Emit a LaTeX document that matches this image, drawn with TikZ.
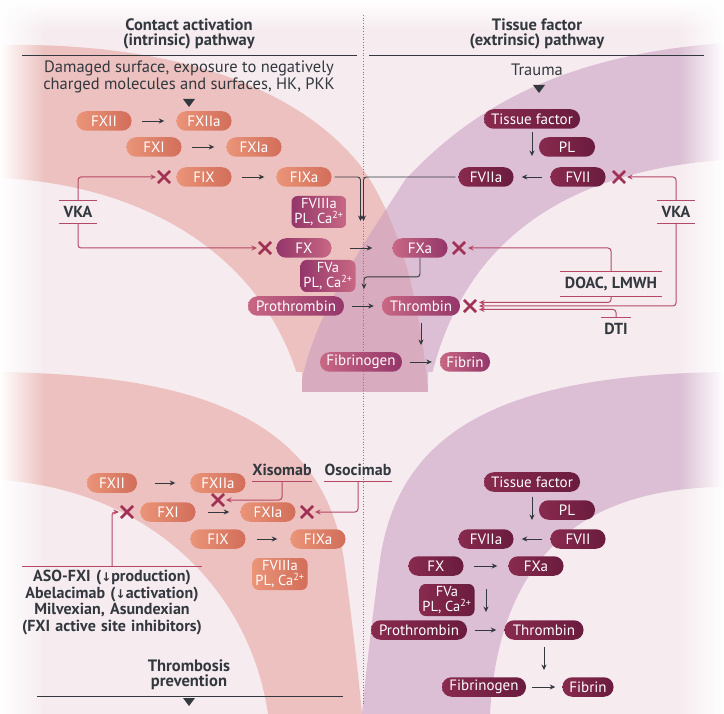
\documentclass[tikz,border=0pt]{standalone}
\usepackage{fontspec}
\setmainfont{PT Sans}
\newfontfamily\arrowfont{DejaVu Sans}
\usetikzlibrary{arrows.meta,shapes.misc,fadings}

\definecolor{ink}{RGB}{50,56,62}
\definecolor{inhred}{RGB}{180,72,102}
\definecolor{xred}{RGB}{160,48,84}
\definecolor{salmonL}{RGB}{234,148,120}
\definecolor{salmonR}{RGB}{210,110,90}
\definecolor{mauveL}{RGB}{200,104,132}
\definecolor{mauveR}{RGB}{148,54,106}
\definecolor{wineL}{RGB}{136,42,78}
\definecolor{wineR}{RGB}{106,28,62}
\definecolor{bgbase}{RGB}{246,236,240}
\definecolor{pinkband}{RGB}{232,170,165}
\definecolor{purpband}{RGB}{200,155,190}

\newcommand{\pillfont}{\fontsize{15}{16}\selectfont}
\newcommand{\cofont}{\fontsize{14.5}{15}\selectfont}
\newcommand{\drugfont}{\fontsize{16}{16.5}\selectfont\bfseries}
\newcommand{\headfont}{\fontsize{16.5}{15.5}\selectfont\bfseries}
\newcommand{\cuefont}{\fontsize{16.5}{14}\selectfont}
\newcommand{\caion}{Ca\textsuperscript{2+}}
\newcommand{\dnarrow}{{\arrowfont\fontsize{12}{12}\selectfont ↓}}

\tikzset{
  pill/.style={rounded corners=9.5pt, minimum width=55pt, minimum height=19.5pt,
    inner xsep=5pt, inner ysep=0pt, text=white, font=\pillfont},
  salmonpill/.style={pill, left color=salmonL, right color=salmonR},
  mauvepill/.style={pill, left color=mauveL, right color=mauveR},
  winepill/.style={pill, left color=wineL, right color=wineR},
  cofactor/.style={rounded corners=6pt, minimum width=55pt, minimum height=32pt,
    inner xsep=1pt, inner ysep=1pt, text=white, align=center, font=\cofont},
  xmark/.style={draw=xred, cross out, line width=2.6pt, minimum size=9.5pt, inner sep=0pt},
  flow/.style={draw=ink, line width=0.9pt, -{Stealth[length=5.5pt,width=5pt]},
    shorten <=8pt, shorten >=8pt},
  inhib/.style={draw=inhred, line width=1pt, -{Stealth[length=5.5pt,width=5pt]},
    rounded corners=3pt},
  drug/.style={font=\drugfont, text=ink, inner sep=0pt},
  bar/.style={draw=inhred, line width=1pt},
  rule/.style={draw=ink, line width=0.9pt},
  heading/.style={font=\headfont, text=ink, align=center},
  cue/.style={font=\cuefont, text=ink, align=center},
}

\begin{document}
\begin{tikzpicture}[x=1pt,y=-1pt]
  \useasboundingbox (0,0) rectangle (724,714);
  % background bands
  \fill[bgbase] (0,0) rectangle (724,714);
  \begin{scope}
    \clip (0,372) rectangle (724,714);
    \fill[pinkband, fill opacity=0.65] (0,372) .. controls (200,375) and (324,420) .. (344,560)
      .. controls (352,620) and (359,680) .. (362,714) -- (268,714)
      .. controls (250,590) and (150,490) .. (0,480) -- cycle;
    \fill[purpband, fill opacity=0.55] (724,372) .. controls (520,375) and (400,420) .. (380,560)
      .. controls (372,620) and (365,680) .. (362,714) -- (490,714)
      .. controls (500,540) and (600,488) .. (724,487) -- cycle;
  \end{scope}
  \begin{scope}
    \clip (0,0) rectangle (724,372) (302,368) rectangle (428,392);
    \fill[pinkband, fill opacity=0.65] (0,45) .. controls (180,42) and (300,90) .. (360,165)
      .. controls (400,220) and (420,300) .. (428,392) -- (302,392)
      .. controls (270,260) and (150,185) .. (0,178) -- cycle;
    \fill[purpband, fill opacity=0.55] (724,43) .. controls (560,55) and (470,110) .. (405,180)
      .. controls (360,250) and (310,320) .. (300,392) -- (428,392)
      .. controls (460,230) and (580,170) .. (724,160) -- cycle;
  \end{scope}
  \fill[white, path fading=east] (0,0) rectangle (45,714);
  \fill[white, path fading=west] (679,0) rectangle (724,714);
  \fill[white, path fading=south] (0,0) rectangle (724,30);
  \draw[gray, dotted, line width=0.7pt] (363,15) -- (363,706);

  % headings
  \node[heading] (intrinsic) at (189,34) {Contact activation\\(intrinsic) pathway};
  \node[heading] (extrinsic) at (537,34) {Tissue factor\\(extrinsic) pathway};
  \draw[rule] (22,55) -- (357,55);
  \draw[rule] (369,55) -- (704,55);
  \node[cue] (damage) at (189,77) {Damaged surface, exposure to negatively\\charged molecules and surfaces, HK, PKK};
  \node[cue] (trauma) at (537,70) {Trauma};
  \fill[ink] (183,99) -- (195,99) -- (189,107) -- cycle;
  \fill[ink] (533,85) -- (545,85) -- (539,93) -- cycle;

  % upper cascade
  \node[salmonpill] (fxii) at (104,121) {FXII};
  \node[salmonpill] (fxiia) at (204,121) {FXIIa};
  \node[salmonpill] (fxi) at (154,147) {FXI};
  \node[salmonpill] (fxia) at (254,147) {FXIa};
  \node[salmonpill] (fix) at (204,177) {FIX};
  \node[salmonpill] (fixa) at (304,177) {FIXa};
  \node[cofactor, left color=mauveR, right color=mauveL] (fviiia) at (319,212) {FVIIIa\\PL, \caion};
  \node[mauvepill, left color=mauveR, right color=mauveL] (fx) at (304,248) {FX};
  \node[mauvepill] (fxa) at (420,248) {FXa};
  \node[cofactor, left color=mauveR, right color=mauveL] (fva) at (328,276) {FVa\\PL, \caion};
  \node[mauvepill, minimum width=96pt] (proth) at (296,306) {Prothrombin};
  \node[mauvepill, minimum width=78pt] (thr) at (421,306) {Thrombin};
  \node[mauvepill, minimum width=82pt] (fbg) at (361,362) {Fibrinogen};
  \node[mauvepill, minimum width=50pt] (fbn) at (465,362) {Fibrin};
  \node[winepill, minimum width=96pt] (tf) at (532,119) {Tissue factor};
  \node[winepill, minimum width=56pt] (pl) at (567,147) {PL};
  \node[winepill] (fviia) at (486,177) {FVIIa};
  \node[winepill] (fvii) at (578,177) {FVII};

  \draw[flow, shorten <=10pt, shorten >=12pt] (fxii) -- (fxiia);
  \draw[flow, shorten <=10pt, shorten >=12pt] (fxi) -- (fxia);
  \draw[flow, shorten <=10pt, shorten >=12pt] (fix) -- (fixa);
  \draw[flow, shorten <=18pt, shorten >=20pt] (fx) -- (fxa);
  \draw[flow] (proth) -- (thr);
  \draw[flow] (fbg) -- (fbn);
  \draw[flow] (fvii) -- (fviia);
  \draw[flow, shorten <=3pt, shorten >=11pt] (tf.south) -- (tf |- fviia.north);
  \draw[flow, shorten <=7pt, shorten >=7pt] (thr.south) -- (thr |- fbg.north);
  \coordinate (mergeA) at (360.5,221);
  \coordinate (mergeB) at (363.5,221);
  \coordinate (prodrop) at (364,289);
  \draw[flow, rounded corners=3pt, shorten <=3pt, shorten >=0pt] (fixa.east) -| (mergeA);
  \draw[flow, rounded corners=3pt, shorten <=3pt, shorten >=0pt] (fviia.west) -| (mergeB);
  \draw[flow, rounded corners=3pt, shorten <=0pt, shorten >=0pt] (fxa.south) -- ++(0,19) -| (prodrop);

  % upper inhibitors
  \node[xmark] (xfix) at (164,177) {};
  \node[xmark] (xfx) at (265,248) {};
  \node[xmark] (xfxa) at (459,248) {};
  \node[xmark] (xthr) at (470,306) {};
  \node[xmark] (xfvii) at (619,177) {};
  \node[drug, minimum width=38pt, minimum height=22pt] (vkaL) at (78,212) {VKA};
  \node[drug, minimum width=37pt, minimum height=22pt] (vkaR) at (676,212) {VKA};
  \node[drug, minimum width=102pt, minimum height=24pt] (doac) at (611,284) {DOAC, LMWH};
  \node[drug, minimum width=30pt, minimum height=22pt] (dti) at (616,329) {DTI};
  \draw[bar] (vkaL.north west) -- (vkaL.north east) (vkaL.south west) -- (vkaL.south east);
  \draw[bar] (vkaR.north west) -- (vkaR.north east) (vkaR.south west) -- (vkaR.south east);
  \draw[bar] (doac.north west) -- (doac.north east) (doac.south west) -- (doac.south east);
  \draw[bar] (dti.north west) -- (dti.north east);
  \draw[inhib, shorten >=2pt] (vkaL.north) |- (xfix.west);
  \draw[inhib, shorten >=2pt] (vkaL.south) |- (xfx.west);
  \draw[inhib, shorten >=2pt] (vkaR.north) |- (xfvii.east);
  \draw[inhib, shorten >=3pt] (vkaR.south) |- (xthr.east);
  \draw[inhib, shorten >=3pt] (doac.north) |- (xfxa.east);
  \draw[inhib, shorten >=3pt] (doac.south) |- ([yshift=3.5pt]xthr.east);
  \draw[inhib, shorten >=3pt] (dti.north) |- ([yshift=-3.5pt]xthr.east);

  % lower cascade
  \node[salmonpill, minimum width=50pt] (fxiiB) at (112,483) {FXII};
  \node[salmonpill] (fxiiaB) at (218,483) {FXIIa};
  \node[salmonpill] (fxiB) at (168,512) {FXI};
  \node[salmonpill] (fxiaB) at (268,512) {FXIa};
  \node[salmonpill] (fixB) at (218,539) {FIX};
  \node[salmonpill] (fixaB) at (318,539) {FIXa};
  \node[cofactor, left color=salmonL, right color=salmonR] (fviiiaB) at (280,574) {FVIIIa\\PL, \caion};
  \node[winepill, minimum width=96pt] (tfB) at (532,482) {Tissue factor};
  \node[winepill, minimum width=56pt] (plB) at (567,510) {PL};
  \node[winepill] (fviiaB) at (486,539) {FVIIa};
  \node[winepill] (fviiB) at (578,539) {FVII};
  \node[winepill] (fxB) at (436,566) {FX};
  \node[winepill] (fxaB) at (536,566) {FXa};
  \node[cofactor, left color=wineL, right color=wineR] (fvaB) at (447,600) {FVa\\PL, \caion};
  \node[winepill, minimum width=96pt] (prothB) at (419,630) {Prothrombin};
  \node[winepill, minimum width=79pt] (thrB) at (544,630) {Thrombin};
  \node[winepill, minimum width=84pt] (fbgB) at (484,687) {Fibrinogen};
  \node[winepill, minimum width=51pt] (fbnB) at (588,687) {Fibrin};

  \draw[flow, shorten <=18pt, shorten >=15pt] (fxiiB) -- (fxiiaB);
  \draw[flow, shorten <=12pt, shorten >=11pt] (fxiB) -- (fxiaB);
  \draw[flow, shorten <=11pt, shorten >=13pt] (fixB) -- (fixaB);
  \draw[flow, shorten <=5pt, shorten >=9pt] (tfB.south) -- (tfB |- fviiaB.north);
  \draw[flow] (fviiB) -- (fviiaB);
  \draw[flow, shorten <=10pt, shorten >=11pt] (fxB) -- (fxaB);
  \coordinate (fvtop) at (486,589);
  \draw[flow, shorten <=0pt, shorten >=8pt] (fvtop) -- (fvtop |- prothB.north);
  \draw[flow] (prothB) -- (thrB);
  \draw[flow, shorten <=7pt, shorten >=7pt] (thrB.south) -- (thrB |- fbgB.north);
  \draw[flow, shorten <=6pt, shorten >=7pt] (fbgB) -- (fbnB);

  % lower inhibitors
  \node[xmark] (xfxiB) at (127,512) {};
  \node[xmark] (xactB) at (218,500) {};
  \node[xmark] (xfxiaB) at (307,512) {};
  \node[drug, text height=10pt, text depth=3pt, inner ysep=2.5pt] (xiso) at (282,472) {Xisomab};
  \node[drug, text height=10pt, text depth=3pt, inner ysep=2.5pt] (oso) at (358,472) {Osocimab};
  \draw[bar] (xiso.south west) -- (xiso.south east);
  \draw[bar] (oso.south west) -- (oso.south east);
  \node[drug, align=center, text width=190pt, anchor=north, inner ysep=4pt] (aso) at (112,566)
    {ASO-FXI (\dnarrow production)\\Abelacimab (\dnarrow activation)\\Milvexian, Asundexian\\(FXI active site inhibitors)};
  \draw[bar] ([xshift=5pt]aso.north west) -- ([xshift=-5pt]aso.north east);
  \draw[inhib, shorten >=2pt] (xiso.south) |- (xactB.east);
  \draw[inhib, shorten >=2pt] (oso.south) |- (xfxiaB.east);
  \draw[inhib, shorten >=2pt] (aso.north) |- (xfxiB.west);

  % outcome
  \node[heading] (prevent) at (189,675) {Thrombosis\\prevention};
  \draw[rule] (37,696) -- (343,696);
  \fill[ink] (183,698) -- (195,698) -- (189,706) -- cycle;
\end{tikzpicture}
\end{document}
